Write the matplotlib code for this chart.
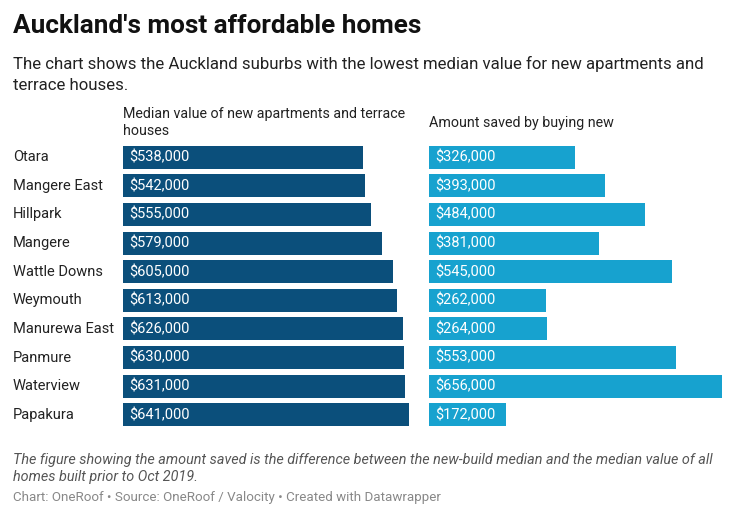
import matplotlib.pyplot as plt

plt.rcParams['font.family'] = ['Roboto', 'DejaVu Sans']

suburbs = ['Otara', 'Mangere East', 'Hillpark', 'Mangere', 'Wattle Downs',
           'Weymouth', 'Manurewa East', 'Panmure', 'Waterview', 'Papakura']
median_new = [538, 542, 555, 579, 605, 613, 626, 630, 631, 641]
saved = [326, 393, 484, 381, 545, 262, 264, 553, 656, 172]

W, H = 740, 518
fig = plt.figure(figsize=(W / 100, H / 100), dpi=100)

def px_axes(x0, y0, x1, y1):
    # pixel box -> figure fraction
    return fig.add_axes([x0 / W, 1 - y1 / H, (x1 - x0) / W, (y1 - y0) / H])

xmax = 656
dark = '#0b4f7b'
light = '#17a2cf'

ax1 = px_axes(123, 143, 416, 429)
ax2 = px_axes(429, 143, 722, 429)

for ax, vals, col in [(ax1, median_new, dark), (ax2, saved, light)]:
    y = range(len(vals))
    ax.barh(y, vals, height=0.8, color=col)
    for i, v in enumerate(vals):
        ax.text(6 / 293 * xmax, i, '${:,}'.format(v * 1000), color='white',
                fontsize=10.5, va='center', ha='left')
    ax.set_xlim(0, xmax)
    ax.set_ylim(len(vals) - 0.5, -0.5)
    ax.axis('off')

for i, s in enumerate(suburbs):
    ax1.text(-110 / 293 * xmax, i, s, fontsize=10.5, color='#222222',
             va='center', ha='left', clip_on=False)

fig.text(13 / W, 1 - 26 / H, "Auckland's most affordable homes", fontsize=18.8,
         fontweight='bold', color='#111111', va='center')
fig.text(13 / W, 1 - 64 / H, 'The chart shows the Auckland suburbs with the lowest median value for new apartments and',
         fontsize=12.1, color='#222222', va='center')
fig.text(13 / W, 1 - 85 / H, 'terrace houses.', fontsize=12.1, color='#222222', va='center')

fig.text(123 / W, 1 - 114 / H, 'Median value of new apartments and terrace', fontsize=10.3,
         color='#222222', va='center')
fig.text(123 / W, 1 - 131 / H, 'houses', fontsize=10.3, color='#222222', va='center')
fig.text(429 / W, 1 - 123 / H, 'Amount saved by buying new', fontsize=10.3,
         color='#222222', va='center')

fig.text(13 / W, 1 - 460 / H, 'The figure showing the amount saved is the difference between the new-build median and the median value of all',
         fontsize=10.4, style='italic', color='#555555', va='center')
fig.text(13 / W, 1 - 477 / H, 'homes built prior to Oct 2019.', fontsize=10.4, style='italic',
         color='#555555', va='center')
fig.text(13 / W, 1 - 497 / H, 'Chart: OneRoof \u2022 Source: OneRoof / Valocity \u2022 Created with Datawrapper',
         fontsize=9.6, color='#888888', va='center')

fig.savefig('out.png', dpi=100, facecolor='white')
